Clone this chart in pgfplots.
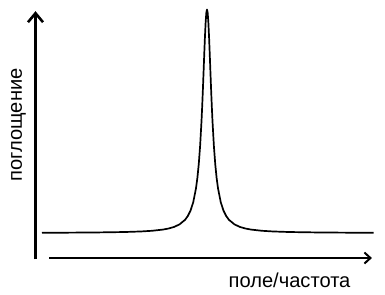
\documentclass[border=0pt]{standalone}
\usepackage{pgfplots}
\pgfplotsset{compat=1.18}
\usepackage{fontspec}
\setmainfont{Liberation Sans}
\usetikzlibrary{arrows.meta}
\begin{document}
\fontsize{20.2}{24}\selectfont
\begin{tikzpicture}
\begin{axis}[
  scale only axis, width=385bp, height=294bp,
  xmin=-37.636, xmax=32.364, ymin=-27.293, ymax=104.251,
  hide axis, clip=false]
\addplot[black, line width=1.7bp, line join=round] coordinates {
(-30,0.11)(-25,0.16)(-20,0.25)(-15,0.44)(-12,0.69)(-10,0.99)(-8,1.54)(-7,2)(-6,2.70)(-5,3.85)(-4,5.88)(-3.5,7.55)(-3,10)(-2.5,13.79)(-2,20)(-1.75,24.62)(-1.5,30.77)(-1.25,39.02)(-1,50)(-0.875,56.64)(-0.75,64)(-0.625,71.91)(-0.5,80)(-0.375,87.67)(-0.25,94.12)(-0.125,98.46)(0,100)
(0.125,98.46)(0.25,94.12)(0.375,87.67)(0.5,80)(0.625,71.91)(0.75,64)(0.875,56.64)(1,50)(1.25,39.02)(1.5,30.77)(1.75,24.62)(2,20)(2.5,13.79)(3,10)(3.5,7.55)(4,5.88)(5,3.85)(6,2.70)(7,2)(8,1.54)(10,0.99)(12,0.69)(15,0.44)(20,0.25)(25,0.16)(30.3,0.11)
};
\draw[line width=2.8bp, -{Straight Barb[length=9bp,width=15bp,line width=2.6bp]}] (rel axis cs:0.0922,0.1180) -- (rel axis cs:0.0922,0.962);
\draw[line width=2.2bp, -{Straight Barb[length=6bp,width=11bp,line width=2bp]}] (rel axis cs:0.1273,0.1224) -- (rel axis cs:0.966,0.1224);
\node[anchor=center] at (rel axis cs:0.752,0.046) {поле/частота};
\node[anchor=center, rotate=90] at (rel axis cs:0.0480,0.575) {поглощение};
\path (rel axis cs:0,0) rectangle (rel axis cs:1,1);
\end{axis}
\end{tikzpicture}
\end{document}
